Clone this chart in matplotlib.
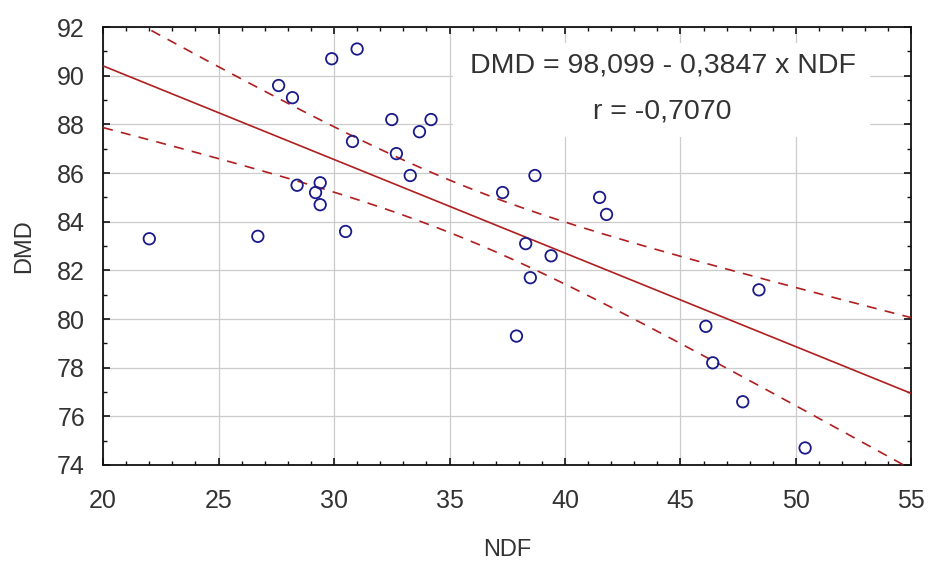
import numpy as np
import matplotlib
matplotlib.use("Agg")
import matplotlib.pyplot as plt
from matplotlib.ticker import MultipleLocator

plt.rcParams['font.family'] = ['Liberation Sans', 'DejaVu Sans']

ndf = [22.0, 26.7, 27.6, 28.2, 28.4, 29.2, 29.4, 29.4, 29.9, 30.5,
       30.8, 31.0, 32.5, 32.7, 33.3, 33.7, 34.2, 37.3, 37.9, 38.3,
       38.5, 38.7, 39.4, 41.5, 41.8, 46.1, 46.4, 47.7, 48.4, 50.4]
dmd = [83.3, 83.4, 89.6, 89.1, 85.5, 85.2, 85.6, 84.7, 90.7, 83.6,
       87.3, 91.1, 88.2, 86.8, 85.9, 87.7, 88.2, 85.2, 79.3, 83.1,
       81.7, 85.9, 82.6, 85.0, 84.3, 79.7, 78.2, 76.6, 81.2, 74.7]

intercept = 98.099
slope = -0.3847
eq_text = "DMD = 98,099 - 0,3847 x NDF"
r_text = "r = -0,7070"
t_crit = 2.048  # t(0.975, 28)

x = np.array(ndf)
y = np.array(dmd)
n = len(x)

# regression line + 95% confidence band for the mean
xs = np.linspace(20, 55, 200)
yfit = intercept + slope * xs
resid = y - (intercept + slope * x)
s = np.sqrt(np.sum(resid ** 2) / (n - 2))
sxx = np.sum((x - x.mean()) ** 2)
half = t_crit * s * np.sqrt(1 / n + (xs - x.mean()) ** 2 / sxx)

fig = plt.figure(figsize=(9.29, 5.65), dpi=100)
ax = fig.add_axes([0.111, 0.177, 0.870, 0.775])

red = '#b01e1e'
ax.plot(xs, yfit, color=red, lw=1.2, zorder=3)
ax.plot(xs, yfit + half, color=red, lw=1.2, ls=(0, (6, 5)), zorder=3)
ax.plot(xs, yfit - half, color=red, lw=1.2, ls=(0, (6, 5)), zorder=3)
ax.scatter(x, y, s=68, facecolors='none', edgecolors='#1a1a8a', linewidths=1.3, zorder=4)

ax.set_xlim(20, 55)
ax.set_ylim(74, 92)
ax.xaxis.set_major_locator(MultipleLocator(5))
ax.xaxis.set_minor_locator(MultipleLocator(1))
ax.yaxis.set_major_locator(MultipleLocator(2))
ax.yaxis.set_minor_locator(MultipleLocator(1))
ax.grid(True, which='major', color='#cccccc', lw=0.9, zorder=0)
ax.set_axisbelow(True)

ax.tick_params(which='both', direction='in', top=True, right=True, colors='#111111')
ax.tick_params(which='major', length=5, width=1.2, labelsize=18, labelcolor='#333333')
ax.tick_params(axis='x', which='major', pad=17)
ax.tick_params(axis='y', which='major', pad=13)
ax.tick_params(which='minor', length=3, width=1.0)
for sp in ax.spines.values():
    sp.set_linewidth(1.3)
    sp.set_color('#111111')

ax.set_xlabel("NDF", fontsize=17, color='#333333', labelpad=19)
ax.set_ylabel("DMD", fontsize=17, color='#333333', labelpad=16)

# white box behind the equation
ax.add_patch(plt.Rectangle((0.433, 0.749), 0.516, 0.214, transform=ax.transAxes,
                           facecolor='white', edgecolor='none', zorder=1))
ax.text(0.693, 0.912, eq_text, transform=ax.transAxes, ha='center', va='center',
        fontsize=20.5, color='#333333', zorder=5)
ax.text(0.692, 0.808, r_text, transform=ax.transAxes, ha='center', va='center',
        fontsize=20.5, color='#333333', zorder=5)

fig.savefig("out.png", dpi=100)
